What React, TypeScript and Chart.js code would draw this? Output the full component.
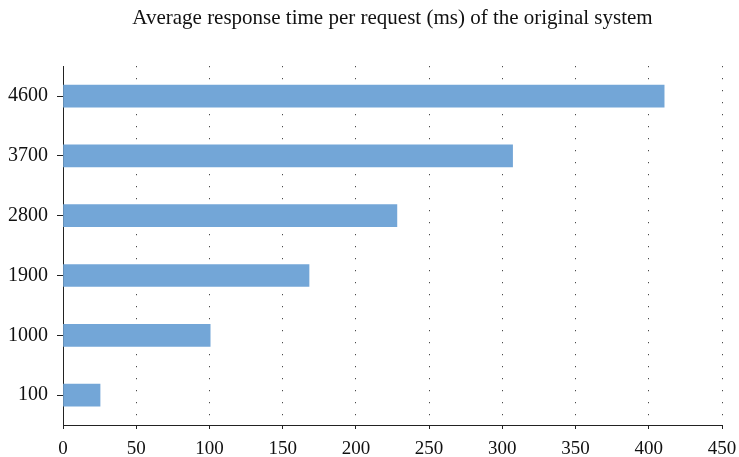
import React, { useEffect, useRef } from "react";
import { Chart, registerables } from "chart.js";

Chart.register(...registerables);

const categories = ["4600", "3700", "2800", "1900", "1000", "100"];
const responseTimes = [410.5, 307, 228, 168, 100.5, 25.3];
const xTicks = [0, 50, 100, 150, 200, 250, 300, 350, 400, 450];
const titleText = "Average response time per request (ms) of the original system";

const FONT = "'Liberation Serif', 'DejaVu Serif', serif";

export default function App() {
  const ref = useRef<HTMLCanvasElement | null>(null);
  useEffect(() => {
    if (!ref.current) return;
    const chart = new Chart(ref.current, {
      type: "bar",
      data: {
        labels: categories,
        datasets: [
          {
            data: responseTimes,
            backgroundColor: "#73a6d7",
            borderWidth: 0,
            barThickness: 22,
          },
        ],
      },
      options: {
        indexAxis: "y",
        responsive: false,
        animation: false,
        layout: { padding: { left: 0, right: 17, top: 0, bottom: 0 } },
        plugins: {
          legend: { display: false },
          tooltip: { enabled: false },
          title: {
            display: true,
            fullSize: false,
            text: titleText,
            color: "#111",
            font: { family: FONT, size: 21, weight: "normal", lineHeight: 1.2 },
            padding: { top: 6, bottom: 35 },
          },
        },
        scales: {
          x: {
            type: "linear",
            min: 0,
            max: 450,
            afterBuildTicks: (scale: any) => {
              scale.ticks = xTicks.map((v) => ({ value: v }));
            },
            afterFit: (scale: any) => {
              scale.height = 32;
              scale.paddingLeft = 0;
              scale.paddingRight = 0;
            },
            ticks: {
              color: "#111",
              font: { family: FONT, size: 19 },
              padding: 9,
              maxRotation: 0,
            },
            grid: {
              display: true,
              drawOnChartArea: true,
              drawTicks: true,
              tickLength: 4,
              color: "#222",
              tickColor: "#222",
              lineWidth: 1,
            },
            border: { display: true, color: "#222", width: 1, dash: [1, 11] },
          },
          y: {
            type: "category",
            offset: true,
            afterFit: (scale: any) => {
              scale.width = 63;
            },
            ticks: {
              color: "#111",
              font: { family: FONT, size: 20 },
              padding: 9,
            },
            grid: {
              display: true,
              offset: false,
              drawOnChartArea: false,
              drawTicks: true,
              tickLength: 6,
              tickColor: "#222",
              color: "#222",
            },
            border: { display: true, color: "#222", width: 1 },
          },
        },
      },
    });
    return () => chart.destroy();
  }, []);
  return (
    <div style={{ position: "fixed", left: 0, top: 0, width: 739, height: 457, background: "#fff" }}>
      <canvas ref={ref} width={739} height={457} style={{ width: 739, height: 457 }} />
    </div>
  );
}
